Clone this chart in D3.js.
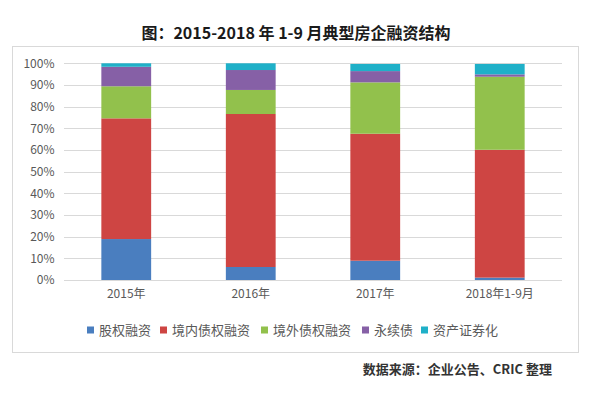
<!DOCTYPE html>
<html><head><meta charset="utf-8">
<script src="https://cdn.jsdelivr.net/npm/d3@7"></script>
<style>
html,body{margin:0;padding:0;background:#fff;}
text{font-family:"Noto Sans CJK SC","Noto Sans",sans-serif;}
</style></head>
<body><svg id="c" width="597" height="404"></svg>
<script>
const categories = ["2015年","2016年","2017年","2018年1-9月"];
const seriesNames = ["股权融资","境内债权融资","境外债权融资","永续债","资产证券化"];
const equity   = [18.9, 6.0, 8.9, 1.1];
const domestic = [55.7, 70.6, 58.6, 59.0];
const overseas = [14.8, 11.1, 23.7, 33.7];
const perpetual= [9.0, 9.2, 5.2, 1.1];
const abs      = [1.6, 3.1, 3.3, 4.8];
const yTicks = [0,10,20,30,40,50,60,70,80,90,100];
const colors = ["#4a7ebf","#ce4543","#92c14c","#8660a6","#1fb0c8"];
const titleText = "图：2015-2018 年 1-9 月典型房企融资结构";
const sourceText = "数据来源：企业公告、CRIC 整理";

const svg = d3.select("#c");
const seriesVals = [equity, domestic, overseas, perpetual, abs];
const rows = categories.map((c,i)=>{const r={cat:c}; seriesNames.forEach((s,j)=>r[s]=seriesVals[j][i]); return r;});
const stacked = d3.stack().keys(seriesNames)(rows);

const x = d3.scaleBand().domain(categories).range([64,562]).paddingInner(0.6).paddingOuter(0.3);
const y = d3.scaleLinear().domain([0,100]).range([280,63.3]);
const color = d3.scaleOrdinal().domain(seriesNames).range(colors);

// frame
svg.append("rect").attr("x",12.5).attr("y",46.5).attr("width",566).attr("height",306)
  .attr("fill","#fff").attr("stroke","#d9d9d9").attr("stroke-width",1);

// title
svg.append("text").attr("x",296).attr("y",39).attr("text-anchor","middle")
  .attr("font-size",16).attr("font-weight","bold").attr("fill","#1a1a1a").text(titleText);

// grid
svg.append("g").selectAll("line").data(yTicks).join("line")
  .attr("x1",64).attr("x2",562).attr("y1",d=>Math.round(y(d))+0.5).attr("y2",d=>Math.round(y(d))+0.5)
  .attr("stroke","#d9d9d9").attr("stroke-width",1);

// y axis labels
const yAxis = d3.axisLeft(y).tickValues(yTicks).tickFormat(d=>d+"%").tickSize(0).tickPadding(0);
const ya = svg.append("g").attr("transform","translate(54.5,0)").call(yAxis);
ya.select(".domain").remove();
ya.selectAll("text").attr("font-size",12).attr("fill","#595959").attr("font-family","Noto Sans, sans-serif");

// bars
svg.append("g").selectAll("g").data(stacked).join("g").attr("fill",d=>color(d.key))
  .selectAll("rect").data(d=>d).join("rect")
  .attr("x",d=>x(d.data.cat)).attr("width",x.bandwidth())
  .attr("y",d=>y(d[1])).attr("height",d=>y(d[0])-y(d[1]));

// x axis labels
const xAxis = d3.axisBottom(x).tickSize(0).tickPadding(0);
const xa = svg.append("g").attr("transform","translate(0,289)").call(xAxis);
xa.select(".domain").remove();
xa.selectAll("text").attr("font-size",12).attr("fill","#595959");

// legend
const legendX = [87, 160, 261, 362, 421];
const lg = svg.append("g").selectAll("g").data(seriesNames).join("g")
  .attr("transform",(d,i)=>`translate(${legendX[i]},330)`);
lg.append("rect").attr("x",0).attr("y",-3.5).attr("width",7).attr("height",7).attr("fill",d=>color(d));
lg.append("text").attr("x",12).attr("y",0).attr("dy","0.35em").attr("font-size",13).attr("fill","#595959").text(d=>d);

// source
svg.append("text").attr("x",552).attr("y",369).attr("dy","0.35em").attr("text-anchor","end")
  .attr("font-size",13).attr("font-weight","bold").attr("fill","#333").text(sourceText);
</script></body></html>
